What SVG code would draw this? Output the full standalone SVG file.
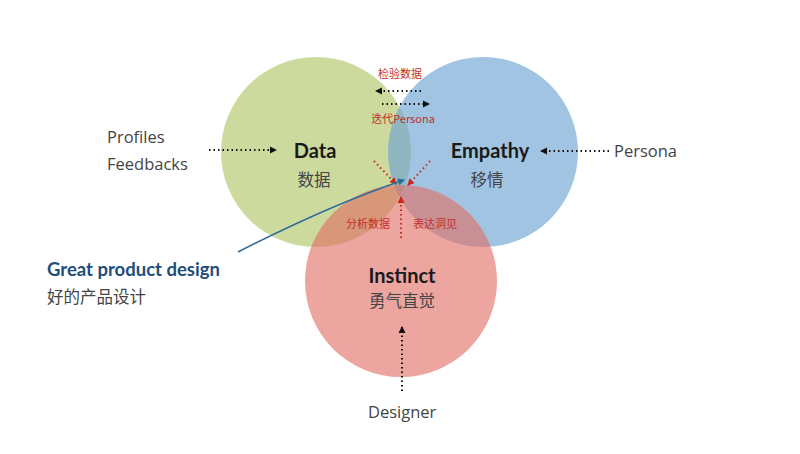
<svg xmlns="http://www.w3.org/2000/svg" width="800" height="454" viewBox="0 0 800 454">
<defs>
<style>
.title{font-family:Lato,"Open Sans",sans-serif;font-weight:bold;font-size:20px;fill:#1a1a1a;text-anchor:middle;}
.sub{font-family:"Noto Sans CJK SC",sans-serif;font-size:16.5px;fill:#444;text-anchor:middle;}
.side{font-family:"Open Sans","Noto Sans CJK SC",sans-serif;font-size:16.5px;fill:#444;}
.red{font-family:"Noto Sans CJK SC",sans-serif;font-size:11px;fill:#c0302a;text-anchor:middle;}
.dk{stroke:#111;stroke-width:2;stroke-dasharray:1.5 3;fill:none;}
.rd{stroke:#c8281f;stroke-width:2;stroke-dasharray:1.5 3;fill:none;}
</style>
<marker id="ak" markerWidth="8" markerHeight="8" refX="6" refY="4" orient="auto" markerUnits="userSpaceOnUse"><path d="M0,0.5 L7,4 L0,7.5 Z" fill="#111"/></marker>
<marker id="ar" markerWidth="8" markerHeight="8" refX="6" refY="4" orient="auto" markerUnits="userSpaceOnUse"><path d="M0,0.5 L7,4 L0,7.5 Z" fill="#c8281f"/></marker>
<marker id="ab" markerWidth="8" markerHeight="8" refX="6" refY="4" orient="auto" markerUnits="userSpaceOnUse"><path d="M0,0.5 L7,4 L0,7.5 Z" fill="#2e6a9a"/></marker>
</defs>
<rect width="800" height="454" fill="#fff"/>
<g id="data">
<circle cx="316" cy="152" r="95" fill="rgb(182,201,110)" fill-opacity="0.68"/>
</g>
<g id="empathy">
<circle cx="483" cy="152" r="95" fill="rgb(110,164,212)" fill-opacity="0.65"/>
</g>
<g id="instinct">
<circle cx="401" cy="281" r="96" fill="rgb(224,110,100)" fill-opacity="0.62"/>
</g>
<g id="labels">
<text class="title" x="315" y="158">Data</text>
<text class="sub" x="314" y="186">数据</text>
<text class="title" x="490" y="158">Empathy</text>
<text class="sub" x="487" y="186">移情</text>
<text class="title" x="402" y="283">Instinct</text>
<text class="sub" x="402" y="307">勇气直觉</text>
</g>
<g id="profiles">
<text class="side" x="107" y="143">Profiles</text>
<text class="side" x="107" y="170">Feedbacks</text>
</g>
<g id="persona"><text class="side" x="614" y="157">Persona</text></g>
<g id="designer"><text class="side" x="368" y="418">Designer</text></g>
<g id="great">
<text x="47" y="276" style="font-family:Lato,'Open Sans',sans-serif;font-weight:bold;font-size:18.5px;fill:#1f4e7a">Great product design</text>
<text class="side" x="47" y="303">好的产品设计</text>
</g>
<g id="redlabels">
<text class="red" x="400" y="78">检验数据</text>
<text class="red" x="403" y="123">迭代Persona</text>
<text class="red" x="368" y="228">分析数据</text>
<text class="red" x="435" y="228">表达洞见</text>
</g>
<g id="connectors">
<line class="dk" x1="209" y1="150" x2="276" y2="150" marker-end="url(#ak)"/>
<line class="dk" x1="609" y1="151" x2="541" y2="151" marker-end="url(#ak)"/>
<line class="dk" x1="402" y1="391" x2="402" y2="327" marker-end="url(#ak)"/>
<line class="dk" x1="421" y1="91" x2="376" y2="91" marker-end="url(#ak)"/>
<line class="dk" x1="382" y1="104" x2="429" y2="104" marker-end="url(#ak)"/>
<line class="rd" x1="374" y1="161" x2="396" y2="184" marker-end="url(#ar)"/>
<line class="rd" x1="430" y1="161" x2="408" y2="185" marker-end="url(#ar)"/>
<line class="rd" x1="401" y1="238" x2="401" y2="197" marker-end="url(#ar)"/>
<path d="M238,252 Q330,205 404,180" fill="none" stroke="#2e6a9a" stroke-width="1.5" marker-end="url(#ab)"/>
</g>
</svg>
